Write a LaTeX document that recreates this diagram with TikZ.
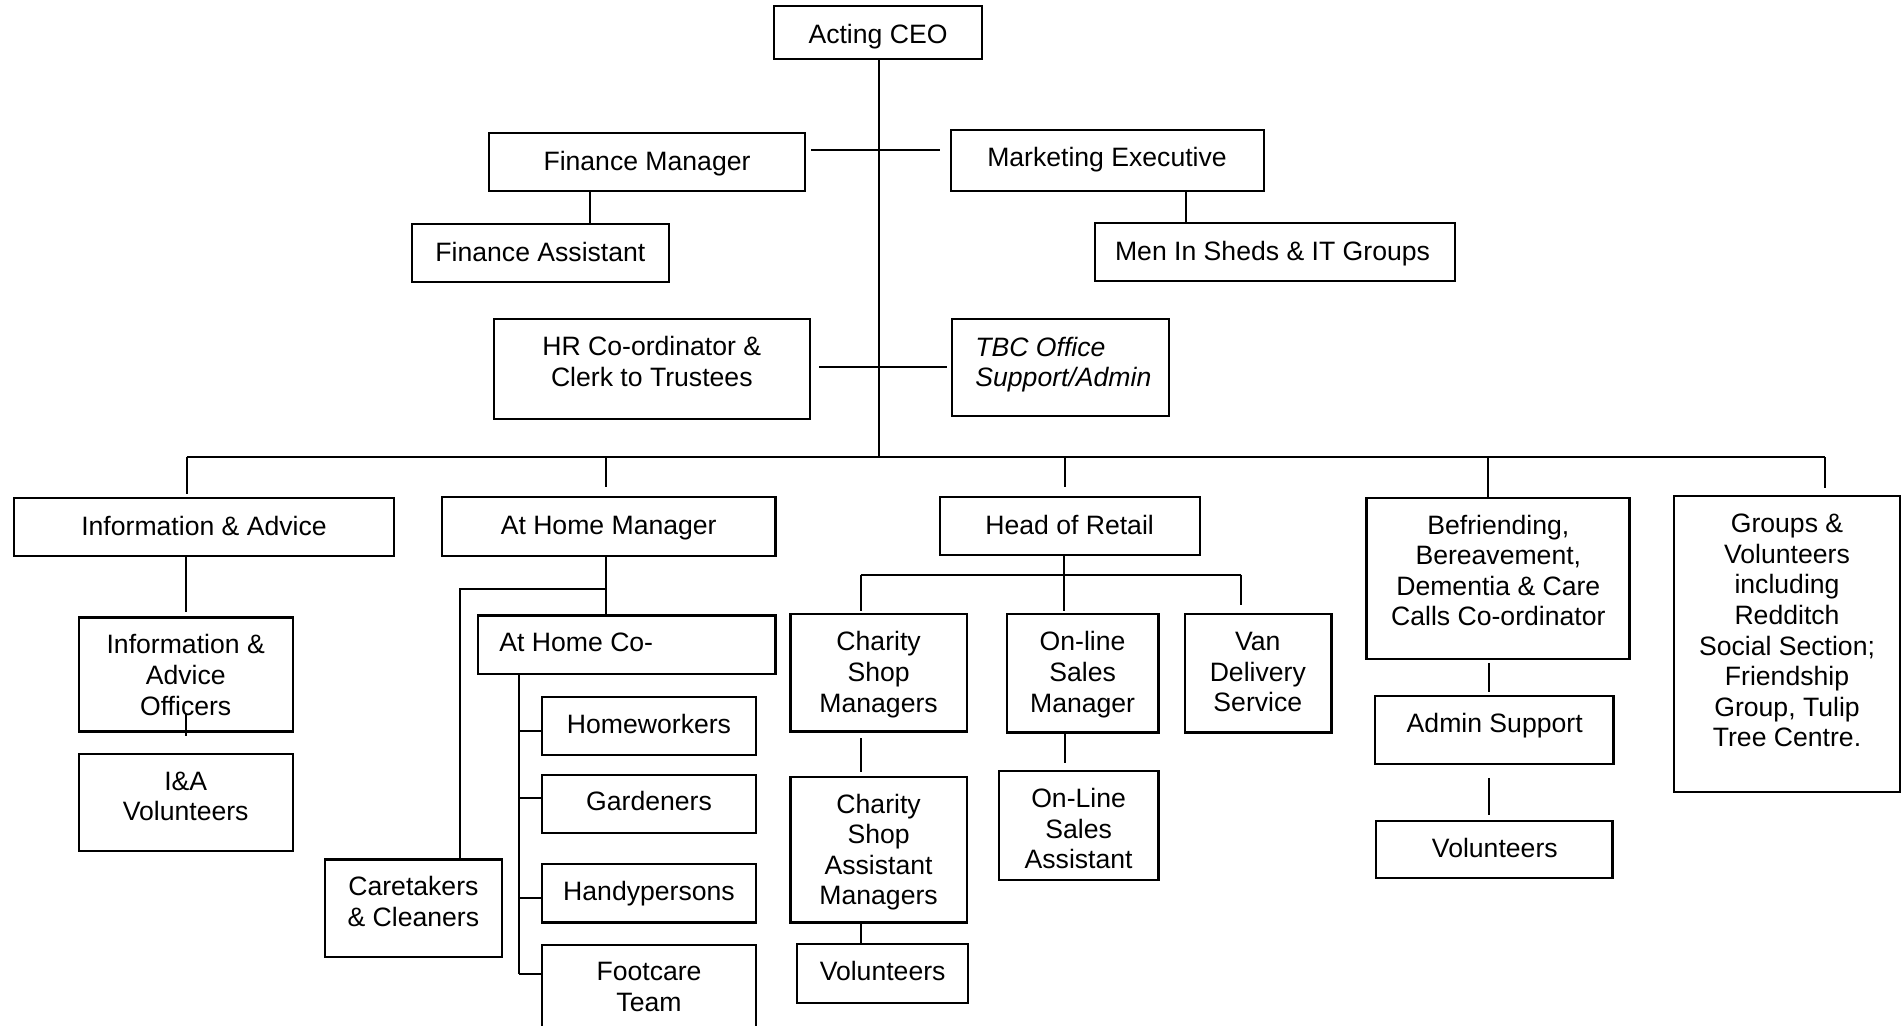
\documentclass[tikz,border=0pt]{standalone}
\usepackage{fontspec}
\setmainfont{Liberation Sans}
\usetikzlibrary{fit}
\begin{document}
\begin{tikzpicture}[x=0.5pt,y=-0.5pt,
  box/.style={draw, line width=1.15pt, inner sep=0pt, minimum size=0pt},
  txt/.style={font=\fontsize{13.3}{15.3}\selectfont, align=center, inner sep=0pt,
    execute at begin node=\strut, execute at end node=\strut},
  itxt/.style={txt, font=\fontsize{13.3}{15.3}\selectfont\itshape, align=left, anchor=west},
  conn/.style={line width=1pt}]
\useasboundingbox (0,0) rectangle (1904,1025);
\fill[white] (0,0) rectangle (1904,1025);
\clip (0,0) rectangle (1904,1025);

% ---------- boxes ----------
\node[box, fit={(774,6) (982,59)}] (ceo) {};
\node[box, fit={(489,133) (805,191)}] (fm) {};
\node[box, fit={(951,130) (1264,191)}] (me) {};
\node[box, fit={(412,224) (669,282)}] (fa) {};
\node[box, fit={(1095,223) (1455,281)}] (mis) {};
\node[box, fit={(494,319) (810,419)}] (hr) {};
\node[box, fit={(952,319) (1169,416)}] (tbc) {};
\node[box, fit={(14,498) (394,556)}] (ia) {};
\node[box, fit={(442,497) (775.5,556)}] (ahm) {};
\node[box, fit={(940,497) (1200,555)}] (hor) {};
\node[box, fit={(1366.6,498) (1629.6,659.3)}] (bef) {};
\node[box, fit={(1674,496) (1900,792.3)}] (grp) {};
\node[box, fit={(79,617.6) (293,731.4)}] (iao) {};
\node[box, fit={(79,754) (293,851)}] (iav) {};
\node[box, fit={(478,615.4) (775.5,674)}] (ahc) {};
\node[box, fit={(541.8,696.7) (756,755.3)}] (hw) {};
\node[box, fit={(541.8,774.7) (756,833)}] (gd) {};
\node[box, fit={(541.8,864) (756,922.5)}] (hp) {};
\node[box, fit={(541.8,945) (756,1080)}] (ft) {};
\node[box, fit={(325,859.5) (501.7,956.7)}] (ct) {};
\node[box, fit={(790.6,614.3) (966.7,731.4)}] (csm) {};
\node[box, fit={(1007.2,614.3) (1158.4,732.5)}] (osm) {};
\node[box, fit={(1185.2,614.3) (1331.4,732.5)}] (van) {};
\node[box, fit={(790.6,777) (966.7,922.5)}] (csam) {};
\node[box, fit={(797,943.7) (968.2,1002.7)}] (vol1) {};
\node[box, fit={(998.8,771) (1158.4,880.3)}] (osa) {};
\node[box, fit={(1375,696) (1613.4,764)}] (adm) {};
\node[box, fit={(1376,821) (1612.6,878)}] (vol2) {};

% ---------- texts ----------
\node[txt] (ceo-t) at (878,37) {Acting CEO};
\node[txt] (fm-t) at (647,164) {Finance Manager};
\node[txt] (me-t) at (1107,160.5) {Marketing Executive};
\node[txt] (fa-t) at (540.4,255) {Finance Assistant};
\node[txt] (mis-t) at (1272.5,254) {Men In Sheds \& IT Groups};
\node[txt] (hr-t) at (651.8,366) {HR Co-ordinator \&\\Clerk to Trustees};
\node[itxt] (tbc-t) at (975,366.5) {TBC Office\\Support/Admin};
\node[txt] (ia-t) at (204,529) {Information \& Advice};
\node[txt] (ahm-t) at (608.7,528.5) {At Home Manager};
\node[txt] (hor-t) at (1069.6,528) {Head of Retail};
\node[txt] (csm-t) at (878.6,676.5) {Charity\\Shop\\Managers};
\node[txt] (osm-t) at (1082.6,676.5) {On-line\\Sales\\Manager};
\node[txt] (van-t) at (1257.8,676.5) {Van\\Delivery\\Service};
\node[txt] (bef-t) at (1498.3,575) {Befriending,\\Bereavement,\\Dementia \& Care\\Calls Co-ordinator};
\node[txt] (grp-t) at (1787,635) {Groups \&\\Volunteers\\including\\Redditch\\Social Section;\\Friendship\\Group, Tulip\\Tree Centre.};
\node[txt] (iao-t) at (185.7,679.5) {Information \&\\Advice\\Officers};
\node[txt] (iav-t) at (185.7,801) {I\&A\\Volunteers};
\node[txt, anchor=west] (ahc-t) at (499,645.5) {At Home Co-};
\node[txt] (hw-t) at (649,727.5) {Homeworkers};
\node[txt] (gd-t) at (649,804.5) {Gardeners};
\node[txt] (hp-t) at (649,894.5) {Handypersons};
\node[txt] (ft-t) at (649,991.5) {Footcare\\Team};
\node[txt] (ct-t) at (413.4,906) {Caretakers\\\& Cleaners};
\node[txt] (csam-t) at (878.6,854) {Charity\\Shop\\Assistant\\Managers};
\node[txt] (vol1-t) at (882.6,974) {Volunteers};
\node[txt] (osa-t) at (1078.6,833) {On-Line\\Sales\\Assistant};
\node[txt] (adm-t) at (1494.7,726.5) {Admin Support};
\node[txt] (vol2-t) at (1494.8,851) {Volunteers};

% ---------- junction coordinates ----------
\coordinate (bus) at (879,457);
\coordinate (j1) at (879,150);
\coordinate (j2) at (879,367);
\coordinate (x1) at (590.3,0);
\coordinate (x2) at (1185.6,0);
\coordinate (bL) at (186.7,457);
\coordinate (bR) at (1824.5,457);
\coordinate (b2) at (606,457);
\coordinate (b3) at (1065,457);
\coordinate (b4) at (1488.2,457);
\coordinate (o1) at (185.7,714);
\coordinate (a1) at (606,589);
\coordinate (a2) at (459.7,589);
\coordinate (v) at (519,0);
\coordinate (h1) at (519,731.4);
\coordinate (h2) at (519,797.5);
\coordinate (h3) at (519,898);
\coordinate (h4) at (519,973.6);
\coordinate (r0) at (1064.2,574.7);
\coordinate (rL) at (860.6,574.7);
\coordinate (rR) at (1241,574.7);
\coordinate (x3) at (1065,0);
\coordinate (x4) at (1489.3,0);

% ---------- connectors ----------
\draw[conn] (ceo.south -| bus) -- (bus);
\draw[conn, shorten <=2.5pt, shorten >=5pt] (fm.east |- j1) -- (me.west |- j1);
\draw[conn, shorten <=4pt, shorten >=2pt] (hr.east |- j2) -- (tbc.west |- j2);
\draw[conn] (x1 |- fm.south) -- (x1 |- fa.north);
\draw[conn] (x2 |- me.south) -- (x2 |- mis.north);

\draw[conn] (bL) -- (bR);
\draw[conn, shorten >=1.4pt] (bL) -- (bL |- ia.north);
\draw[conn, shorten >=4.25pt] (b2) -- (b2 |- ahm.north);
\draw[conn, shorten >=4.25pt] (b3) -- (b3 |- hor.north);
\draw[conn] (b4) -- (b4 |- bef.north);
\draw[conn, shorten >=3.4pt] (bR) -- (bR |- grp.north);

\draw[conn, shorten >=2pt] (o1 |- ia.south) -- (o1 |- iao.north);
\draw[conn, shorten >=8.5pt] (o1) -- (o1 |- iav.north);

\draw[conn] (b2 |- ahm.south) -- (b2 |- ahc.north);
\draw[conn] (a1) -- (a2) -- (a2 |- ct.north);
\draw[conn] (v |- ahc.south) -- (h4);
\draw[conn] (h1) -- (h1 -| hw.west);
\draw[conn] (h2) -- (h2 -| gd.west);
\draw[conn] (h3) -- (h3 -| hp.west);
\draw[conn] (h4) -- (h4 -| ft.west);

\draw[conn] (r0 |- hor.south) -- (r0);
\draw[conn] (rL) -- (rR);
\draw[conn, shorten >=1.3pt] (rL) -- (rL |- csm.north);
\draw[conn, shorten >=1.3pt] (r0) -- (r0 |- osm.north);
\draw[conn, shorten >=4pt] (rR) -- (rR |- van.north);
\draw[conn, shorten <=2.8pt, shorten >=2pt] (rL |- csm.south) -- (rL |- csam.north);
\draw[conn] (rL |- csam.south) -- (rL |- vol1.north);
\draw[conn, shorten >=3.5pt] (x3 |- osm.south) -- (x3 |- osa.north);

\draw[conn, shorten <=1.2pt, shorten >=1.6pt] (x4 |- bef.south) -- (x4 |- adm.north);
\draw[conn, shorten <=6.3pt, shorten >=2.5pt] (x4 |- adm.south) -- (x4 |- vol2.north);
\end{tikzpicture}
\end{document}
